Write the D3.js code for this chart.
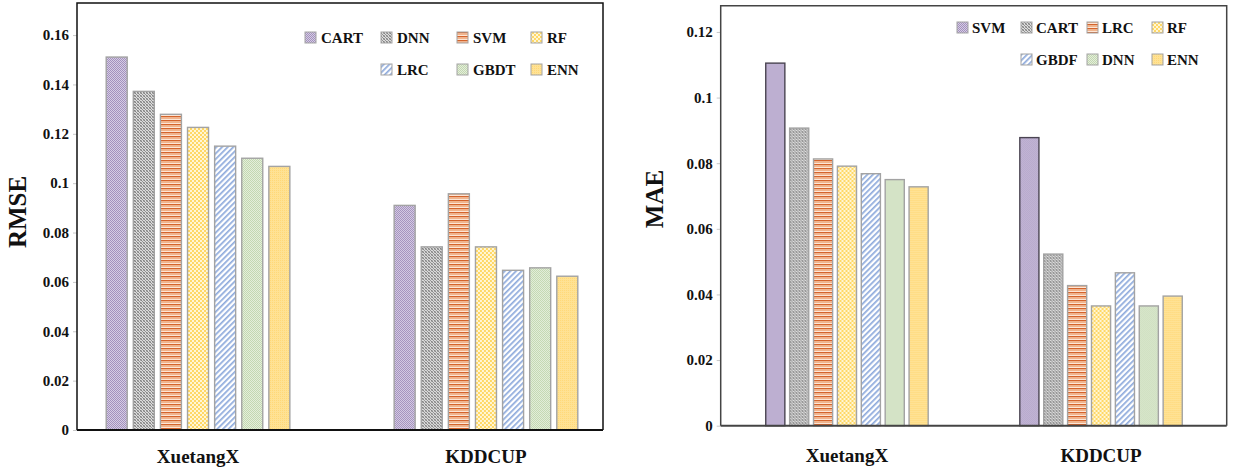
<!DOCTYPE html>
<html><head><meta charset="utf-8">
<script src="https://cdn.jsdelivr.net/npm/d3@7/dist/d3.min.js"></script>
<style>
html,body{margin:0;padding:0;background:#fff;}
</style></head>
<body>
<svg id="chart" width="1241" height="472"></svg>
<script>
// ---- data ----
const categories = ["XuetangX", "KDDCUP"];

const rmseSeries = ["CART", "DNN", "SVM", "RF", "LRC", "GBDT", "ENN"];
const rmseXuetangX = [0.1511, 0.1372, 0.1279, 0.1226, 0.1150, 0.1101, 0.1068];
const rmseKDDCUP   = [0.0910, 0.0742, 0.0957, 0.0742, 0.0647, 0.0657, 0.0623];
const rmseTicks = [0, 0.02, 0.04, 0.06, 0.08, 0.1, 0.12, 0.14, 0.16];

const maeSeries = ["SVM", "CART", "LRC", "RF", "GBDF", "DNN", "ENN"];
const maeXuetangX = [0.1105, 0.0907, 0.0813, 0.0791, 0.0768, 0.0750, 0.0728];
const maeKDDCUP   = [0.0878, 0.0523, 0.0427, 0.0365, 0.0466, 0.0365, 0.0395];
const maeTicks = [0, 0.02, 0.04, 0.06, 0.08, 0.1, 0.12];

const FONT = "'Liberation Serif', 'Times New Roman', 'DejaVu Serif', serif";

// ---- patterns ----
const svg = d3.select("#chart");
const defs = svg.append("defs");
function pat(id, w, h, base, draw, transform) {
  const p = defs.append("pattern").attr("id", id).attr("patternUnits", "userSpaceOnUse")
    .attr("width", w).attr("height", h);
  if (transform) p.attr("patternTransform", transform);
  p.append("rect").attr("width", w).attr("height", h).attr("fill", base);
  draw(p);
}
pat("p0", 2, 2, "#d6cde4", p => {
  p.append("rect").attr("x", 0).attr("y", 0).attr("width", 1).attr("height", 1).attr("fill", "#a391bd");
  p.append("rect").attr("x", 1).attr("y", 1).attr("width", 1).attr("height", 1).attr("fill", "#a391bd");
});
pat("p1", 3, 3, "#dcdcdc", p => {
  p.append("rect").attr("x", 0).attr("y", 0).attr("width", 1).attr("height", 1).attr("fill", "#838383");
  p.append("rect").attr("x", 1).attr("y", 1).attr("width", 1).attr("height", 1).attr("fill", "#939393");
  p.append("rect").attr("x", 2).attr("y", 2).attr("width", 1).attr("height", 1).attr("fill", "#838383");
  p.append("rect").attr("x", 2).attr("y", 0).attr("width", 1).attr("height", 1).attr("fill", "#acacac");
  p.append("rect").attr("x", 0).attr("y", 2).attr("width", 1).attr("height", 1).attr("fill", "#acacac");
});
pat("p2", 4, 4, "#fde6d6", p => {
  p.append("rect").attr("x", 0).attr("y", 0).attr("width", 4).attr("height", 1.4).attr("fill", "#d4642c");
  p.append("rect").attr("x", 0).attr("y", 1.4).attr("width", 4).attr("height", 1.6).attr("fill", "#f1b48c");
});
pat("p3", 4, 4, "#fff6d6", p => {
  p.append("rect").attr("x", 0).attr("y", 0).attr("width", 2).attr("height", 2).attr("fill", "#ffd866");
  p.append("rect").attr("x", 2).attr("y", 2).attr("width", 2).attr("height", 2).attr("fill", "#ffd866");
});
pat("p4", 4, 4, "#ffffff", p => {
  p.append("rect").attr("x", 0).attr("y", 0).attr("width", 1.7).attr("height", 4).attr("fill", "#8eaadc");
}, "rotate(45)");
pat("p5", 2, 2, "#e4eedb", p => {
  p.append("rect").attr("x", 0).attr("y", 0).attr("width", 1).attr("height", 1).attr("fill", "#c3d8b1");
  p.append("rect").attr("x", 1).attr("y", 1).attr("width", 1).attr("height", 1).attr("fill", "#c3d8b1");
});
pat("p6", 2, 2, "#ffe294", p => {
  p.append("rect").attr("x", 0).attr("y", 0).attr("width", 1).attr("height", 1).attr("fill", "#ffd878");
});
const fills = ["url(#p0)", "url(#p1)", "url(#p2)", "url(#p3)", "url(#p4)", "url(#p5)", "url(#p6)"];
const fmt = v => String(+v.toFixed(2));

function txt(sel, size) {
  return sel.attr("font-family", FONT).style("font-family", FONT)
    .attr("font-weight", "bold").style("font-weight", "bold")
    .style("font-size", size + "px").attr("fill", "#111");
}

function drawPanel(cfg) {
  const g = svg.append("g");
  const y = d3.scaleLinear().domain([0, cfg.yMax]).range([cfg.bottom, cfg.top]);
  const x0 = d3.scaleBand().domain(categories).range(cfg.groupRange).paddingInner(cfg.groupPad).paddingOuter(0);
  const x1 = d3.scaleBand().domain(cfg.series).range([0, x0.bandwidth()])
    .paddingInner(cfg.barPad).paddingOuter(cfg.barOuter);

  const rows = categories.map((c, ci) => ({cat: c, vals: cfg.values[ci]}));
  const grp = g.selectAll("g.grp").data(rows).join("g").attr("transform", d => `translate(${x0(d.cat)},0)`);
  grp.selectAll("rect").data(d => d.vals.map((v, i) => ({s: cfg.series[i], v, i})))
    .join("rect")
    .attr("x", d => x1(d.s)).attr("width", x1.bandwidth())
    .attr("y", d => y(d.v)).attr("height", d => y(0) - y(d.v))
    .attr("fill", d => fills[d.i])
    .attr("stroke", d => (cfg.darkFirst && d.i === 0) ? "#4a4452" : "#a3a3a3")
    .attr("stroke-width", 1.4);

  // y axis
  const ax = g.append("g").attr("transform", `translate(${cfg.left},0)`)
    .call(d3.axisLeft(y).tickValues(cfg.ticks).tickFormat(fmt).tickSize(4).tickPadding(4));
  ax.attr("font-family", FONT);
  ax.select(".domain").remove();
  ax.selectAll(".tick line").attr("stroke", "#c8c8c8");
  txt(ax.selectAll(".tick text"), 15);

  // frame
  g.append("path").attr("d", `M${cfg.left},${cfg.bottom}V${cfg.top}H${cfg.right}V${cfg.bottom}`)
    .attr("fill", "none").attr("stroke", cfg.frameColor).attr("stroke-width", 1.5);
  g.append("line").attr("x1", cfg.left).attr("x2", cfg.right).attr("y1", cfg.bottom).attr("y2", cfg.bottom)
    .attr("stroke", cfg.frameColor).attr("stroke-width", 2);

  // category labels
  txt(g.selectAll("text.cat").data(categories).join("text").attr("class", "cat")
    .attr("x", d => x0(d) + x0.bandwidth() / 2).attr("y", cfg.catY)
    .attr("text-anchor", "middle"), 19).text(d => d);

  // y title
  txt(g.append("text").attr("transform", `translate(${cfg.titleX},${cfg.titleY}) rotate(-90)`)
    .attr("text-anchor", "middle"), 25).text(cfg.title);

  // legend
  cfg.series.forEach((s, i) => {
    const pos = cfg.legendPos[i];
    g.append("rect").attr("x", pos[0]).attr("y", pos[1]).attr("width", 11).attr("height", 11)
      .attr("fill", fills[i]).attr("stroke", "#a3a3a3").attr("stroke-width", 1);
    txt(g.append("text").attr("x", pos[0] + cfg.legendGap).attr("y", pos[1] + 11), 15).text(s);
  });
}

drawPanel({
  series: rmseSeries, values: [rmseXuetangX, rmseKDDCUP], ticks: rmseTicks, yMax: 0.173,
  left: 77, right: 603, top: 3, bottom: 430,
  groupRange: [102, 582], groupPad: 0.333, barPad: 0.225, barOuter: 0.155,
  frameColor: "#111", catY: 463, titleX: 26, titleY: 212, title: "RMSE", darkFirst: false,
  legendGap: 16,
  legendPos: [[305, 32], [381, 32], [457, 32], [531, 32], [381, 64], [457, 64], [531, 64]]
});
drawPanel({
  series: maeSeries, values: [maeXuetangX, maeKDDCUP], ticks: maeTicks, yMax: 0.128,
  left: 720.7, right: 1226.7, top: 5.7, bottom: 425.7,
  groupRange: [763.5, 1184.5], groupPad: 0.343, barPad: 0.2, barOuter: 0.094,
  frameColor: "#444", catY: 462, titleX: 663, titleY: 199, title: "MAE", darkFirst: true,
  legendGap: 15,
  legendPos: [[957, 22], [1021, 22], [1087, 22], [1152, 22], [1021, 54], [1087, 54], [1152, 54]]
});
</script>
</body></html>
